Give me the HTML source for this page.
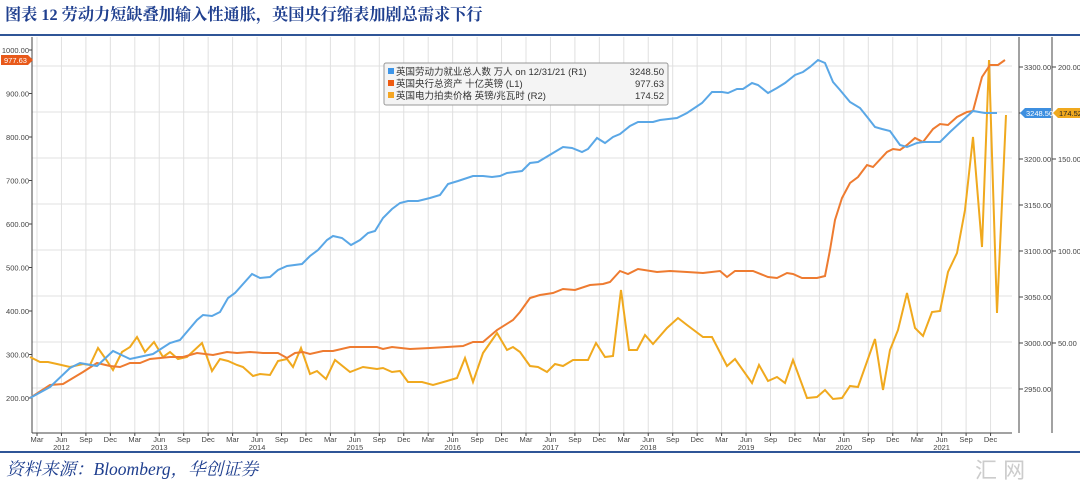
<!DOCTYPE html>
<html><head><meta charset="utf-8"><style>
html,body{margin:0;padding:0;background:#fff;width:1080px;height:482px;overflow:hidden}
svg text{font-family:"Liberation Sans","Noto Sans CJK SC",sans-serif}
</style></head><body>
<svg width="1080" height="482" viewBox="0 0 1080 482" xmlns="http://www.w3.org/2000/svg">
<text x="5" y="20" font-size="16.2" font-weight="bold" fill="#1f3f8f" style="font-family:'Liberation Serif','Noto Serif CJK SC',serif">图表 12 劳动力短缺叠加输入性通胀，英国央行缩表加剧总需求下行</text>
<rect x="0" y="34" width="1080" height="2" fill="#2f5597"/>
<g id="grid" stroke="#e0e0e0" stroke-width="1"></g>
<g stroke="#444" stroke-width="1" fill="none">
<line x1="32" y1="37" x2="32" y2="433"/>
<line x1="32" y1="433" x2="1012" y2="433"/>
<line x1="1019" y1="37" x2="1019" y2="433"/>
<line x1="1052" y1="37" x2="1052" y2="433"/>
</g>
<g id="labels" font-size="7.5" fill="#444"></g>
<polyline fill="none" stroke="#f0a91e" stroke-width="2" points="30,357 40,362 48,362 57,364 70,367 83,364 90,365 98,348 105,358 113,370 122,352 130,347 137,337 145,352 154,342 163,357 170,352 178,359 187,357 202,343 212,371 220,359 228,361 237,365 243,367 253,376 260,374 270,375 278,361 287,359 293,367 301,348 310,374 317,371 326,379 335,360 350,372 363,367 377,369 383,368 392,372 400,371 408,382 422,382 433,385 447,381 457,378 465,358 473,382 483,353 497,333 507,350 513,347 520,352 530,366 538,367 547,372 555,364 563,366 573,360 588,360 596,343 605,357 613,356 621,290 629,350 637,350 645,335 653,344 667,328 678,318 687,325 703,337 712,337 727,366 735,359 752,383 759,365 768,381 777,377 785,383 793,360 807,398 817,397 825,390 833,399 842,398 850,386 858,387 875,339 883,390 890,350 898,330 907,293 915,328 923,336 932,312 940,311 948,272 957,253 965,210 973,137 982,247 989,60 997,313 1006,115"/>
<polyline fill="none" stroke="#ee7b30" stroke-width="2" points="30,398 50,385 63,384 83,372 97,363 110,366 120,367 130,363 140,363 150,359 170,357 183,357 197,353 213,355 227,352 237,353 250,352 263,353 278,353 287,358 295,353 303,352 310,354 323,351 333,351 350,347 377,347 383,349 392,347 410,349 430,348 447,347 463,346 473,342 483,342 497,330 513,320 520,312 530,298 540,295 553,293 563,289 575,290 590,285 603,284 610,282 620,271 628,274 638,269 657,272 670,271 687,272 703,273 720,271 727,277 735,271 753,271 768,277 777,278 787,273 793,274 802,278 817,278 825,276 830,250 835,220 842,198 850,183 858,177 867,165 873,167 887,152 893,149 900,150 907,145 915,138 923,142 933,129 940,124 948,125 957,117 967,112 973,111 982,77 990,65 998,65 1005,60"/>
<polyline fill="none" stroke="#5aa7e6" stroke-width="2" points="30,398 50,387 70,368 80,363 97,366 113,351 130,359 153,354 170,343 180,340 197,320 203,315 212,316 220,312 228,298 235,293 252,274 260,278 270,277 278,270 287,266 302,264 310,256 318,250 327,240 333,236 342,238 351,245 360,240 368,233 375,231 383,218 392,209 400,203 408,201 418,201 430,198 440,195 448,184 458,181 473,176 483,176 492,177 500,176 507,173 522,171 530,163 538,162 553,153 563,147 572,148 582,152 588,149 597,138 605,143 613,137 620,134 630,126 638,122 653,122 660,120 677,118 687,113 702,103 712,92 722,92 728,93 737,89 743,89 752,83 758,85 768,93 777,88 785,83 795,75 803,72 810,67 818,60 825,63 833,82 840,90 850,102 860,108 868,118 875,127 882,129 890,131 900,145 907,147 917,143 923,142 940,142 950,132 963,120 973,111 985,113 997,113"/>
<rect x="384" y="63" width="284" height="42" rx="2" fill="#f4f4f4" stroke="#999" stroke-width="1"/>
<g font-size="9.5" fill="#333">
<rect x="388" y="68" width="6" height="6" fill="#3d95e8"/><text x="396" y="75">英国劳动力就业总人数 万人 on 12/31/21 (R1)</text><text x="664" y="75" text-anchor="end">3248.50</text>
<rect x="388" y="80" width="6" height="6" fill="#ee5a10"/><text x="396" y="87">英国央行总资产 十亿英镑 (L1)</text><text x="664" y="87" text-anchor="end">977.63</text>
<rect x="388" y="92" width="6" height="6" fill="#f5a623"/><text x="396" y="99">英国电力拍卖价格 英镑/兆瓦时 (R2)</text><text x="664" y="99" text-anchor="end">174.52</text>
</g>
<path d="M1,55 h27 l5,5 l-5,5 h-27z" fill="#e8591a"/><text x="4" y="63" font-size="7.5" fill="#fff">977.63</text>
<path d="M1020,113 l5,-5 h26 v10 h-26z" fill="#3d8fe0"/><text x="1026" y="116" font-size="7.5" fill="#fff">3248.50</text>
<path d="M1053,113 l5,-5 h22 v10 h-22z" fill="#f0a91e"/><text x="1059" y="116" font-size="7.5" fill="#222">174.52</text>
<rect x="0" y="451" width="1080" height="2" fill="#2f5597"/>
<text x="6" y="475" font-size="17.5" font-style="italic" fill="#1f3f8f" style="font-family:'Liberation Serif','Noto Serif CJK SC',serif">资料来源：Bloomberg，华创证券</text>
<text x="975" y="478" font-size="22" fill="#ccc">汇 网</text>
</svg>
<script>
const ns="http://www.w3.org/2000/svg";
const g=document.getElementById('grid'),L=document.getElementById('labels');
function ln(p,a,b,c,d,s){const e=document.createElementNS(ns,'line');e.setAttribute('x1',a);e.setAttribute('y1',b);e.setAttribute('x2',c);e.setAttribute('y2',d);if(s)e.setAttribute('stroke',s);p.appendChild(e);}
function tx(x,y,t,anchor){const e=document.createElementNS(ns,'text');e.setAttribute('x',x);e.setAttribute('y',y);if(anchor)e.setAttribute('text-anchor',anchor);e.textContent=t;L.appendChild(e);}
for(let y=66;y<=433;y+=46){ln(g,32,y,1012,y);}
const m=['Mar','Jun','Sep','Dec'];
for(let q=0;q<40;q++){const x=37+q*24.45;if(x>1012)break;ln(g,x,37,x,433);ln(L,x,433,x,436,'#444');tx(x,442,m[q%4],'middle');if(q%4==1)tx(x,450,String(2012+Math.floor(q/4)),'middle');}
for(let i=0;i<=8;i++){const v=1000-i*100,y=50+i*43.5;tx(29,y+3,v.toFixed(2),'end');ln(L,29,y,32,y,'#444');}
[3300,3250,3200,3150,3100,3050,3000,2950].forEach((v,i)=>{const y=67+i*46;ln(L,1019,y,1023,y,'#444');if(v!=3250)tx(1024,y+3,v.toFixed(2));});
[200,150,100,50].forEach((v,i)=>{const y=67+i*92;ln(L,1052,y,1056,y,'#444');tx(1058,y+3,v.toFixed(2));});
</script>
</body></html>
